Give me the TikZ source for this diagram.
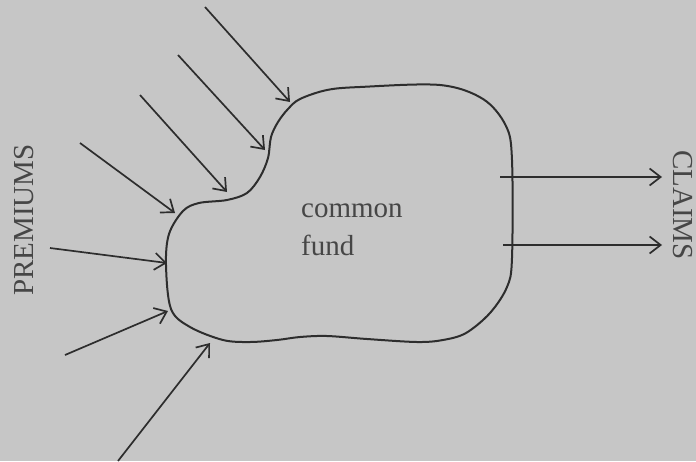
\documentclass[tikz,border=0pt]{standalone}
\usepackage{fontspec}
\setmainfont{Liberation Serif}
\usetikzlibrary{arrows.meta}
\definecolor{bgcol}{RGB}{198,198,198}
\definecolor{inkcol}{RGB}{45,45,45}
\definecolor{txtcol}{RGB}{70,70,70}
\tikzset{
  arr/.style={draw=inkcol, line width=1.7pt, -{Straight Barb[length=11pt,width=17pt,line width=1.7pt]}},
  blob/.style={draw=inkcol, line width=2pt},
  lbl/.style={text=txtcol, inner sep=0pt, font=\fontsize{29}{34}\selectfont},
}
\begin{document}
\begin{tikzpicture}[x=1pt,y=-1pt]
\fill[bgcol] (0,0) rectangle (696,461);
\useasboundingbox (0,0) rectangle (696,461);
% fund outline
\draw[blob] plot[smooth cycle, tension=0.55] coordinates {
 (300,99) (327,90) (360,87) (440,85) (483,99) (506,126) (512,160)
 (512,258) (507,287) (490,313) (466,333) (443,340) (417,342) (367,339)
 (327,336) (300,337) (277,340) (250,342) (223,340) (190,327) (171,309)
 (166,265) (169,234) (183,211) (199,203) (227,200) (247,193) (260,177)
 (268,158) (271,137) (278,122) (288,109)};
% text
\node[lbl, anchor=base west] (common) at (301,217) {common};
\node[lbl, anchor=base west] (fund) at (301,255) {fund};
\node[lbl, rotate=90] (prem) at (24,220) {PREMIUMS};
\node[lbl, rotate=-90] (claims) at (683,205) {CLAIMS};
% premium arrows
\coordinate (a1s) at (205,7);   \coordinate (a1e) at (290,102);
\coordinate (a2s) at (178,55);  \coordinate (a2e) at (265,150);
\coordinate (a3s) at (140,95);  \coordinate (a3e) at (227,192);
\coordinate (a4s) at (80,143);  \coordinate (a4e) at (175,213);
\coordinate (a5s) at (50,248);  \coordinate (a5e) at (167,263);
\coordinate (a6s) at (65,355);  \coordinate (a6e) at (168,311);
\coordinate (a7s) at (118,461); \coordinate (a7e) at (210,343);
\draw[arr] (a1s) -- (a1e);
\draw[arr] (a2s) -- (a2e);
\draw[arr] (a3s) -- (a3e);
\draw[arr] (a4s) -- (a4e);
\draw[arr] (a5s) -- (a5e);
\draw[arr] (a6s) -- (a6e);
\draw[arr] (a7s) -- (a7e);
% claim arrows
\coordinate (c1s) at (500,177); \coordinate (c1e) at (662,177);
\coordinate (c2s) at (503,245); \coordinate (c2e) at (662,245);
\draw[arr] (c1s) -- (c1e);
\draw[arr] (c2s) -- (c2e);
\end{tikzpicture}
\end{document}
